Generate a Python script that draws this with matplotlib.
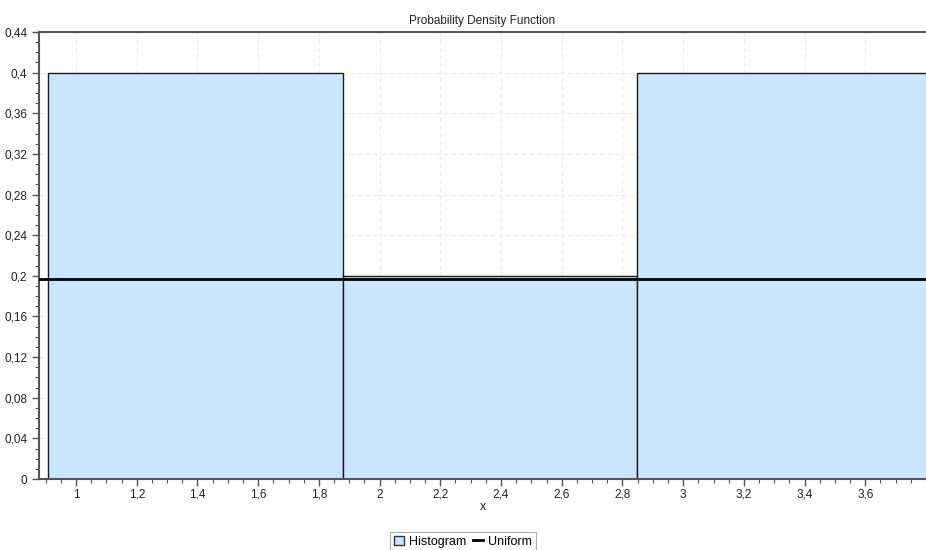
import numpy as np
import matplotlib
matplotlib.use("Agg")
import matplotlib.pyplot as plt
from matplotlib.ticker import FixedLocator, MultipleLocator, FuncFormatter
from matplotlib.patches import Patch
from matplotlib.lines import Line2D

# Dados
bin_edges = [0.908, 1.880, 2.848, 3.816]
densidades = [0.4, 0.2, 0.4]
uniforme = 0.197

x_ticks = [1.0, 1.2, 1.4, 1.6, 1.8, 2.0, 2.2, 2.4, 2.6, 2.8, 3.0, 3.2, 3.4, 3.6]
y_ticks = [0, 0.04, 0.08, 0.12, 0.16, 0.2, 0.24, 0.28, 0.32, 0.36, 0.4, 0.44]


def virgula(v, pos=None):
    return f"{round(v, 2):g}".replace(".", ",")


plt.rcParams['font.family'] = ['Liberation Sans', 'DejaVu Sans']

fig = plt.figure(figsize=(9.26, 5.5), dpi=100)
ax = fig.add_axes([39 / 926, 1 - 479 / 550, 1 - 39 / 926, (479 - 32) / 550])

# Grade tracejada atrás das barras
ax.set_axisbelow(True)
ax.grid(True, which='major', color='#ececec', linestyle=(0, (4, 3)), linewidth=0.8)

larguras = np.diff(bin_edges)
ax.bar(bin_edges[:-1], densidades, width=larguras, align='edge',
       color='#cce5ff', edgecolor='#1a1a1a', linewidth=1.0, zorder=2)
ax.axhline(uniforme, color='black', linewidth=2.0, zorder=3)

ax.set_xlim(0.878, 3.80)
ax.set_ylim(0, 0.44)

ax.xaxis.set_major_locator(FixedLocator(x_ticks))
ax.xaxis.set_minor_locator(MultipleLocator(0.05))
ax.yaxis.set_major_locator(FixedLocator(y_ticks))
ax.yaxis.set_minor_locator(MultipleLocator(0.01))
ax.xaxis.set_major_formatter(FuncFormatter(virgula))
ax.yaxis.set_major_formatter(FuncFormatter(virgula))

ax.tick_params(which='major', direction='out', length=5, width=1, color='#555555',
               labelsize=8.5, labelcolor='#222222')
ax.tick_params(axis='x', which='major', pad=2)
ax.tick_params(which='minor', direction='out', length=3, width=0.8, color='#555555')

for lado in ['left', 'bottom', 'top']:
    ax.spines[lado].set_color('#555555')
    ax.spines[lado].set_linewidth(1.5)
ax.spines['right'].set_visible(False)

ax.set_title("Probability Density Function", fontsize=8.5, color='#222222', pad=6)
ax.set_xlabel("x", fontsize=9, color='#222222', labelpad=0)

handles = [Patch(facecolor='#cce5ff', edgecolor='#333333', linewidth=1.0),
           Line2D([0], [0], color='black', linewidth=2)]
leg = fig.legend(handles, ["Histogram", "Uniform"], loc='lower center',
                 bbox_to_anchor=(0.5, -0.014), ncol=2, fontsize=9, frameon=True,
                 fancybox=False, handlelength=0.8, handleheight=0.8,
                 handletextpad=0.4, columnspacing=0.6, borderpad=0.3)
leg.get_frame().set_edgecolor('#999999')
leg.get_frame().set_linewidth(0.8)

fig.savefig("out.png", dpi=100)
